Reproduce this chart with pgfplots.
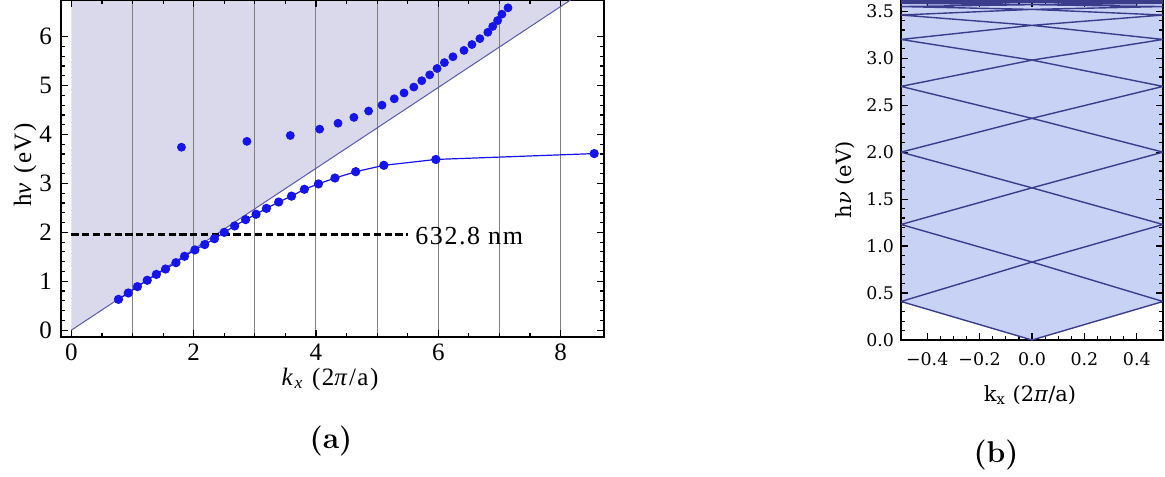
\documentclass[border=0pt]{standalone}
\usepackage{pgfplots}
\pgfplotsset{compat=1.18}
\usepackage{fontspec}
\newfontfamily\timesfont{Liberation Serif}
\newfontfamily\timeswide[LetterSpace=6]{Liberation Serif}
\newfontfamily\schoolfont{DejaVu Serif}

\definecolor{conelav}{RGB}{217,217,235}
\definecolor{conefill}{RGB}{200,210,245}
\definecolor{bandline}{RGB}{60,60,140}
\definecolor{ptblue}{RGB}{20,20,235}
\definecolor{lightline}{RGB}{90,90,170}

\begin{document}
\begin{tikzpicture}

% ---------------- (a) dispersion along k_x ----------------
\begin{axis}[
  at={(30.5pt,-168.5pt)}, anchor=south west,
  scale only axis, width=271.5pt, height=168.5pt,
  set layers,
  xmin=-0.17, xmax=8.71, ymin=-0.14, ymax=6.75,
  xtick={0,2,4,6,8}, ytick={0,1,2,3,4,5,6},
  minor x tick num=3, minor y tick num=4,
  tick align=inside,
  major tick length=3.5pt, minor tick length=2pt,
  every tick/.style={black, line width=0.6pt},
  axis line style={black, line width=0.9pt},
  extra x ticks={1,2,3,4,5,6,7,8},
  extra x tick labels={},
  extra x tick style={grid=major, major tick length=0pt,
    major grid style={black!50, line width=0.5pt}},
  ticklabel style={font=\timesfont\fontsize{12.5}{14}\selectfont},
  yticklabel style={xshift=-1pt},
  /pgf/number format/assume math mode=true,
]
% light cone region
\addplot[on layer=axis background, fill=conelav, draw=none]
  coordinates {(0,0) (8.3,6.864) (0,6.864) (0,0)};
% light line
\addplot[lightline, line width=0.5pt] coordinates {(0,0) (8.3,6.864)};
% 632.8 nm
\addplot[black, line width=1.5pt, dash pattern=on 3.6pt off 1.8pt]
  coordinates {(0,1.96) (5.5,1.96)};
\node[anchor=west, inner sep=0pt, font=\timeswide\fontsize{13}{15}\selectfont]
  at (axis cs:5.62,1.93) {632.8 nm};
% lower band (guided)
\addplot[ptblue, line width=0.6pt, mark=*, mark size=2pt,
  mark options={solid, fill=ptblue, draw=ptblue}] coordinates {
  (0.77,0.63) (0.93,0.76) (1.08,0.89) (1.24,1.02) (1.39,1.14)
  (1.54,1.25) (1.71,1.38) (1.85,1.51) (2.02,1.64) (2.18,1.75)
  (2.34,1.87) (2.50,2.00) (2.67,2.13) (2.85,2.26) (3.02,2.37)
  (3.19,2.49) (3.39,2.62) (3.60,2.74) (3.81,2.88) (4.04,2.99)
  (4.31,3.11) (4.65,3.24) (5.11,3.37) (5.96,3.49) (8.55,3.61)};
% upper band
\addplot[only marks, mark=*, mark size=2pt,
  mark options={fill=ptblue, draw=ptblue}] coordinates {
  (1.80,3.74) (2.87,3.86) (3.58,3.98) (4.06,4.11) (4.36,4.23)
  (4.62,4.35) (4.86,4.48) (5.08,4.60) (5.28,4.73) (5.44,4.85)
  (5.60,4.97) (5.73,5.10) (5.86,5.22) (5.98,5.35) (6.10,5.47)
  (6.24,5.59) (6.42,5.72) (6.55,5.84) (6.68,5.96) (6.81,6.09)
  (6.89,6.21) (6.97,6.33) (7.04,6.46) (7.14,6.59)};
\end{axis}

\node[rotate=90, font=\timeswide\fontsize{12.5}{14}\selectfont]
  at (12.5pt,-82.5pt) {h\textit{ν} (eV)};
\node[font=\timeswide\fontsize{12.5}{14}\selectfont]
  at (165pt,-189.5pt) {\textit{k}\textsubscript{\textit{x}} (2\textit{π}/a)};
\node[font=\bfseries\fontsize{15}{17}\selectfont] at (165.5pt,-220.5pt) {(a)};

% ---------------- (b) folded band in the first zone ----------------
\begin{axis}[
  at={(450.5pt,-170pt)}, anchor=south west,
  scale only axis, width=131pt, height=170pt,
  set layers,
  xmin=-0.5, xmax=0.5, ymin=0, ymax=3.62,
  xtick={-0.4,-0.2,0,0.2,0.4},
  xticklabels={−0.4,−0.2,0.0,0.2,0.4},
  ytick={0,0.5,1,1.5,2,2.5,3,3.5},
  yticklabels={0.0,0.5,1.0,1.5,2.0,2.5,3.0,3.5},
  minor x tick num=3, minor y tick num=4,
  tick align=inside,
  major tick length=3.5pt, minor tick length=2pt,
  every tick/.style={black, line width=0.6pt},
  axis line style={black, line width=0.9pt},
  ticklabel style={font=\schoolfont\fontsize{8.7}{10}\selectfont},
  xticklabel style={yshift=-3pt},
]
\addplot[on layer=axis background, fill=conefill, draw=none]
  coordinates {(-0.5,0.41) (0,0) (0.5,0.41) (0.5,3.7) (-0.5,3.7) (-0.5,0.41)};
\addplot[bandline, line width=0.7pt] coordinates {
  (0,0) (0.5,0.41) (0,0.83) (0.5,1.23) (0,1.62) (0.5,2.00) (0,2.36)
  (0.5,2.70) (0,2.98) (0.5,3.20) (0,3.35) (0.5,3.46) (0,3.52)
  (0.5,3.55) (0,3.57) (0.5,3.585) (0,3.595) (0.5,3.603) (0,3.61)
  (0.5,3.615)};
\addplot[bandline, line width=0.7pt] coordinates {
  (0,0) (-0.5,0.41) (0,0.83) (-0.5,1.23) (0,1.62) (-0.5,2.00) (0,2.36)
  (-0.5,2.70) (0,2.98) (-0.5,3.20) (0,3.35) (-0.5,3.46) (0,3.52)
  (-0.5,3.55) (0,3.57) (-0.5,3.585) (0,3.595) (-0.5,3.603) (0,3.61)
  (-0.5,3.615)};
\end{axis}

\node[rotate=90, font=\schoolfont\fontsize{10.5}{12}\selectfont]
  at (422.5pt,-90pt) {h\textit{ν} (eV)};
\node[font=\schoolfont\fontsize{10.5}{12}\selectfont]
  at (515pt,-197.5pt) {k\textsubscript{x} (2\textit{π}/a)};
\node[font=\bfseries\fontsize{15}{17}\selectfont] at (498pt,-227.5pt) {(b)};

% page frame
\pgfresetboundingbox
\path[use as bounding box] (0pt,0pt) rectangle (582.5pt,-238pt);
\end{tikzpicture}
\end{document}
